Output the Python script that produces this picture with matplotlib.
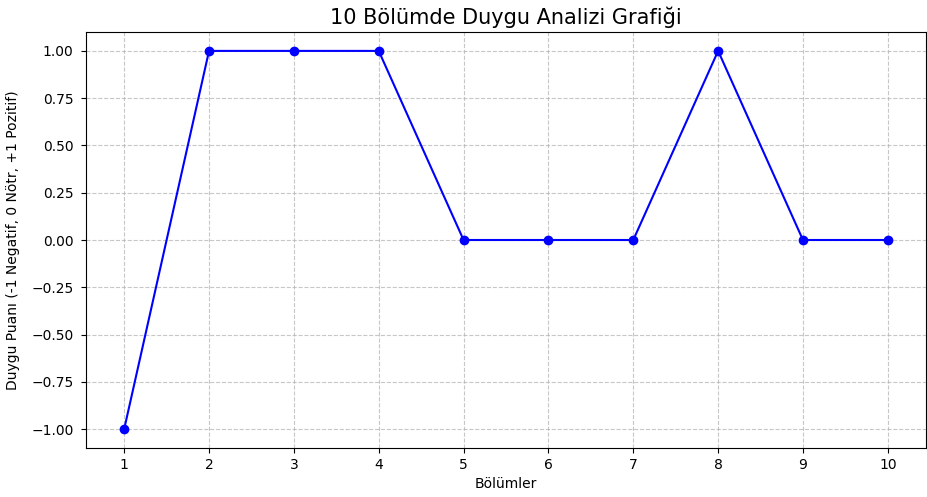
import matplotlib
matplotlib.use("Agg")
import matplotlib.pyplot as plt

episodes = [1, 2, 3, 4, 5, 6, 7, 8, 9, 10]
scores = [-1, 1, 1, 1, 0, 0, 0, 1, 0, 0]

fig = plt.figure(figsize=(9.28, 4.97), dpi=100)
ax = fig.add_axes([86/928, 1 - 448/497, (926-86)/928, (448-32)/497])
ax.plot(episodes, scores, marker='o', linestyle='-', color='blue')
ax.set_title('10 Bölümde Duygu Analizi Grafiği', fontsize=15)
ax.set_xlabel('Bölümler')
ax.set_ylabel('Duygu Puanı (-1 Negatif, 0 Nötr, +1 Pozitif)', labelpad=8)
ax.set_xticks(episodes)
ax.tick_params(axis='y', pad=5.5)
ax.grid(True, linestyle='--', alpha=0.7)
fig.savefig('out.png', dpi=100)
